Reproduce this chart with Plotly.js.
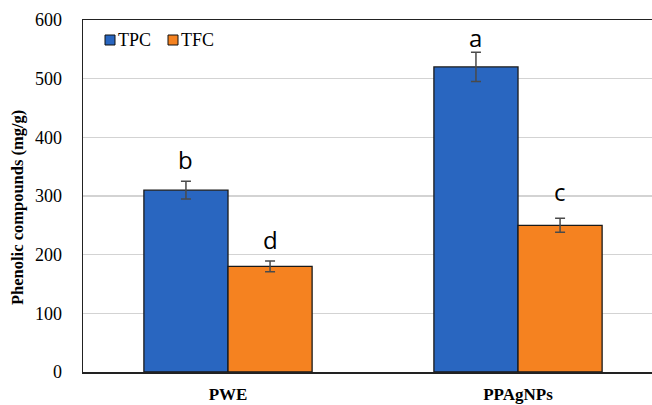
<!DOCTYPE html>
<html><head><meta charset="utf-8">
<script src="https://cdn.plot.ly/plotly-3.0.1.min.js"></script>
<style>body{margin:0;padding:0;background:#fff}#chart{width:652px;height:405px}</style>
</head><body><div id="chart"></div>
<script>
const categories = ["PWE", "PPAgNPs"];
const seriesNames = ["TPC", "TFC"];
const tpcValues = [310, 520];
const tpcErrors = [15, 25];
const tfcValues = [180, 250];
const tfcErrors = [9, 12];
const tpcLetters = ["b", "a"];
const tfcLetters = ["d", "c"];
const yTicks = [0, 100, 200, 300, 400, 500, 600];

const serif = "'Liberation Serif', 'DejaVu Serif', serif";
const sans = "'Open Sans', 'DejaVu Sans', sans-serif";
const colors = ["#2966c0", "#f58220"];
const tpcLetterShift = [3, -4];
const tfcLetterShift = [3, 8];

const traceTPC = {
  type: "bar", name: seriesNames[0], x: categories, y: tpcValues, showlegend: false,
  marker: {color: colors[0], line: {color: "#1a1a1a", width: 1.3}},
  error_y: {type: "data", array: tpcErrors, visible: true, color: "#4a4a4a", thickness: 1.5, width: 5}
};
const traceTFC = {
  type: "bar", name: seriesNames[1], x: categories, y: tfcValues, showlegend: false,
  marker: {color: colors[1], line: {color: "#1a1a1a", width: 1.3}},
  error_y: {type: "data", array: tfcErrors, visible: true, color: "#4a4a4a", thickness: 1.5, width: 5}
};

const annotations = [];
categories.forEach((c, i) => {
  annotations.push({x: i - 0.145, y: tpcValues[i] + tpcErrors[i], yshift: tpcLetterShift[i], text: tpcLetters[i], showarrow: false, xref: "x", yref: "y", yanchor: "bottom", font: {family: sans, size: 24, color: "#000"}});
  annotations.push({x: i + 0.145, y: tfcValues[i] + tfcErrors[i], yshift: tfcLetterShift[i], text: tfcLetters[i], showarrow: false, xref: "x", yref: "y", yanchor: "bottom", font: {family: sans, size: 24, color: "#000"}});
});
// y-axis title
annotations.push({text: "<b>Phenolic compounds (mg/g)</b>", xref: "paper", yref: "paper", x: 0, y: 0.466, xshift: -65, textangle: -90, showarrow: false, xanchor: "center", yanchor: "middle", font: {family: serif, size: 16.5, color: "#000"}});

// custom legend (small squares + labels)
const legendX = [22, 85];
const shapes = [];
seriesNames.forEach((n, k) => {
  shapes.push({type: "rect", xref: "paper", yref: "paper", xsizemode: "pixel", ysizemode: "pixel", xanchor: 0, yanchor: 1,
    x0: legendX[k], x1: legendX[k] + 10, y0: -15, y1: -25, fillcolor: colors[k], line: {color: "#111", width: 1}});
  annotations.push({text: n, xref: "paper", yref: "paper", x: 0, y: 1, xshift: legendX[k] + 11, yshift: -20, xanchor: "left", yanchor: "middle", showarrow: false, font: {family: serif, size: 18, color: "#000"}});
});

const layout = {
  width: 652, height: 405,
  margin: {l: 83, r: 0, t: 20, b: 33},
  paper_bgcolor: "#fff", plot_bgcolor: "#fff",
  barmode: "group", bargap: 0.42, bargroupgap: 0,
  showlegend: false,
  xaxis: {
    type: "category", range: [-0.5, 1.462],
    showline: true, linecolor: "#222", linewidth: 1.5, mirror: true,
    ticks: "outside", ticklen: 6, tickcolor: "rgba(0,0,0,0)",
    tickfont: {family: serif, size: 17, color: "#000", weight: "bold"},
    showgrid: false, zeroline: false
  },
  yaxis: {
    range: [0, 600], tickvals: yTicks, ticktext: yTicks.map(String),
    showline: true, linecolor: "#222", linewidth: 1.5,
    ticks: "outside", ticklen: 16, tickcolor: "rgba(0,0,0,0)",
    tickfont: {family: serif, size: 18, color: "#000"},
    showgrid: true, gridcolor: "#d3d3d3", gridwidth: 1.3, zeroline: false
  },
  shapes: shapes,
  annotations: annotations
};
Plotly.newPlot("chart", [traceTPC, traceTFC], layout, {displayModeBar: false, staticPlot: true});
</script></body></html>
